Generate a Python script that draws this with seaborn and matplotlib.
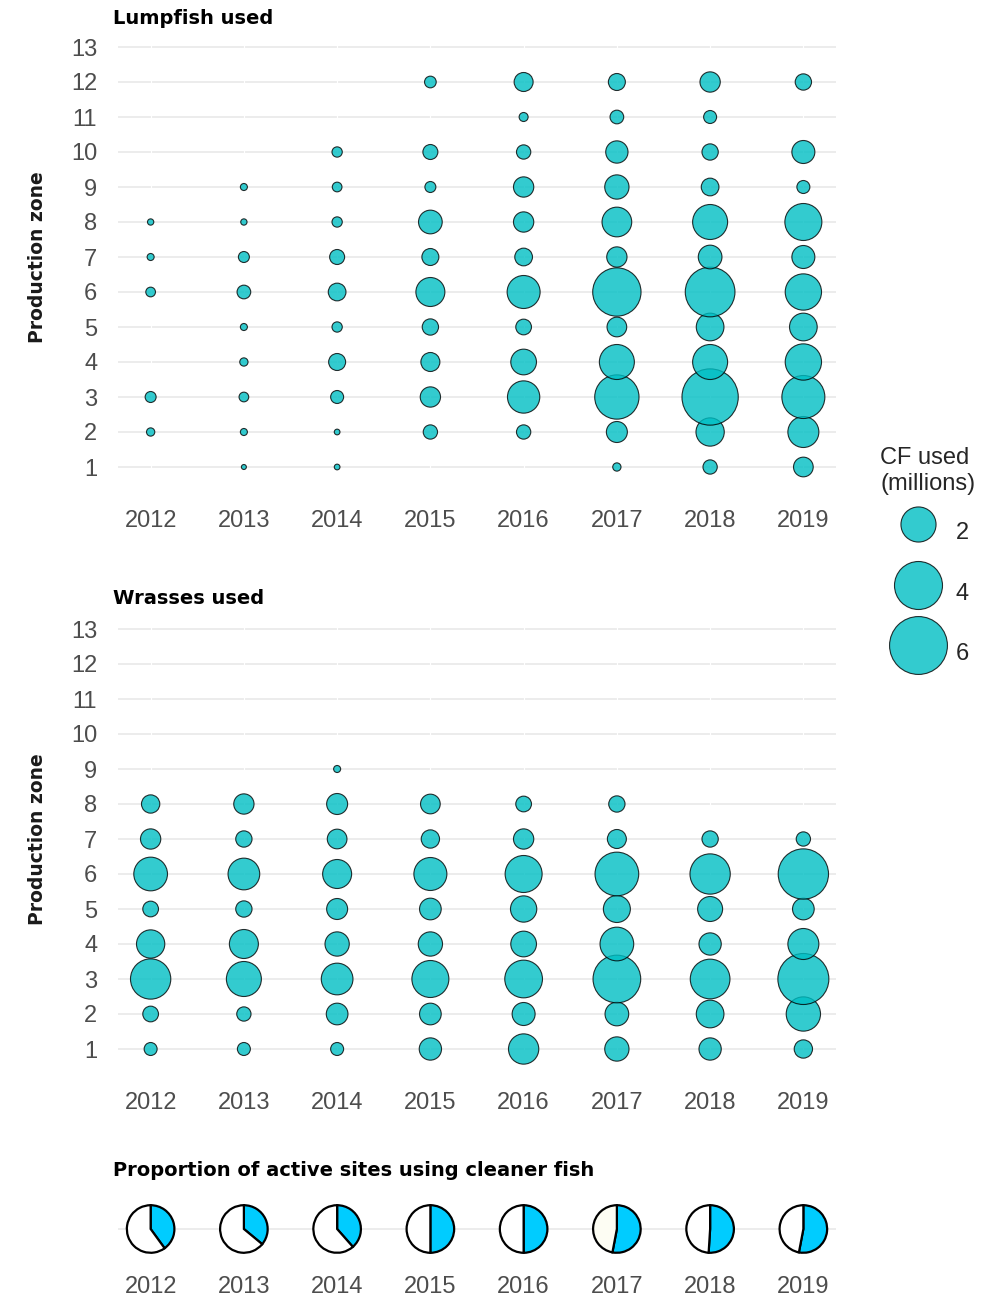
import numpy as np
import pandas as pd
import matplotlib
matplotlib.use("Agg")
import matplotlib.pyplot as plt
import seaborn as sns
from matplotlib.lines import Line2D

# ---------------- data ----------------
YEARS = [2012, 2013, 2014, 2015, 2016, 2017, 2018, 2019]
ZONES = list(range(1, 14))

# Cleaner fish used (millions) per production zone 1..13 (None = not used)
LUMP_2012 = [None, 0.038, 0.101, None, None, 0.067, 0.019, 0.011, None, None, None, None, None]
LUMP_2013 = [0.002, 0.019, 0.067, 0.038, 0.019, 0.194, 0.101, 0.011, 0.019, None, None, None, None]
LUMP_2014 = [0.006, 0.006, 0.167, 0.349, 0.082, 0.388, 0.250, 0.082, 0.067, 0.082, None, None, None]
LUMP_2015 = [None, 0.219, 0.549, 0.465, 0.313, 1.291, 0.349, 0.802, 0.101, 0.250, None, 0.122, None]
LUMP_2016 = [None, 0.219, 1.655, 0.973, 0.283, 1.738, 0.388, 0.549, 0.549, 0.219, 0.052, 0.465, None]
LUMP_2017 = [0.038, 0.597, 3.355, 1.985, 0.509, 4.060, 0.549, 1.365, 0.851, 0.692, 0.194, 0.349, None]
LUMP_2018 = [0.219, 1.220, 5.650, 1.985, 1.160, 4.315, 0.802, 1.985, 0.388, 0.313, 0.167, 0.549, None]
LUMP_2019 = [0.509, 1.506, 3.142, 2.156, 1.160, 2.156, 0.746, 2.250, 0.167, 0.746, None, 0.313, None]

WRASSE_2012 = [0.167, 0.283, 2.722, 1.220, 0.283, 1.822, 0.549, 0.423, None, None, None, None, None]
WRASSE_2013 = [0.167, 0.219, 1.985, 1.291, 0.313, 1.585, 0.313, 0.549, None, None, None, None, None]
WRASSE_2014 = [0.167, 0.647, 1.585, 0.851, 0.597, 1.291, 0.509, 0.597, 0.019, None, None, None, None]
WRASSE_2015 = [0.692, 0.647, 2.250, 0.851, 0.647, 1.738, 0.423, 0.509, None, None, None, None, None]
WRASSE_2016 = [1.429, 0.746, 2.347, 0.973, 1.027, 2.250, 0.549, 0.283, None, None, None, None, None]
WRASSE_2017 = [0.851, 0.802, 3.943, 1.822, 1.093, 3.256, 0.465, 0.313, None, None, None, None, None]
WRASSE_2018 = [0.692, 1.160, 2.633, 0.692, 0.911, 2.722, 0.313, None, None, None, None, None, None]
WRASSE_2019 = [0.423, 1.897, 4.564, 1.506, 0.647, 4.429, 0.219, None, None, None, None, None, None]

# Proportion of active sites using cleaner fish
SITE_SHARE = [0.40, 0.36, 0.385, 0.50, 0.50, 0.53, 0.51, 0.53]

LEGEND_VALUES = [2, 4, 6]

LUMP = [LUMP_2012, LUMP_2013, LUMP_2014, LUMP_2015, LUMP_2016, LUMP_2017, LUMP_2018, LUMP_2019]
WRASSE = [WRASSE_2012, WRASSE_2013, WRASSE_2014, WRASSE_2015, WRASSE_2016, WRASSE_2017,
          WRASSE_2018, WRASSE_2019]


def long_frame(table):
    rows = []
    for yr, vals in zip(YEARS, table):
        for z, v in zip(ZONES, vals):
            if v is not None:
                rows.append({"year": yr, "zone": z, "value": v})
    return pd.DataFrame(rows)


# ---------------- style ----------------
W, H, DPI = 986, 1297, 100
PX = 72.0 / DPI  # points per pixel
CYAN = "#00BFC4"
PIE_BLUE = "#00CCFF"
GRID = "#EBEBEB"
TXT = "#4D4D4D"
TICKC = "#333333"


def size_scale(v):
    """area scale: diameter grows with sqrt(value) (ggplot-like), returns marker area in pt^2"""
    d_px = 4.0 + 22.0 * np.sqrt(np.asarray(v, dtype=float))
    return (d_px * PX) ** 2


sns.set_style("white")
plt.rcParams["font.family"] = ["Liberation Sans", "DejaVu Sans"]

fig = plt.figure(figsize=(W / DPI, H / DPI), dpi=DPI)

AX_L, AX_W = 118 / W, 718 / W
XLIM = (2011.65, 2019.35)


def bubble_panel(top_px, bottom_px, table, title, title_y):
    ax = fig.add_axes([AX_L, 1 - bottom_px / H, AX_W, (bottom_px - top_px) / H])
    df = long_frame(table)
    ax.set_axisbelow(True)
    ax.yaxis.grid(True, color=GRID, linewidth=1.3)
    ax.xaxis.grid(False)
    ax.vlines(YEARS, 0.4, 13.6, colors="white", linewidth=0.8, zorder=1)
    sns.scatterplot(data=df, x="year", y="zone", s=size_scale(df["value"]).tolist(),
                    color=CYAN, alpha=0.8, edgecolor="black", linewidth=0.8,
                    legend=False, ax=ax, zorder=3)
    ax.set_xlim(*XLIM)
    ax.set_ylim(0.4, 13.6)
    ax.set_xticks(YEARS)
    ax.set_xticklabels([str(y) for y in YEARS])
    ax.set_yticks(ZONES)
    ax.set_yticklabels([str(z) for z in ZONES])
    ax.set_xlabel("")
    ax.set_ylabel("")
    for s in ax.spines.values():
        s.set_visible(False)
    ax.tick_params(axis="both", direction="out", length=3, width=0.8, color=TICKC,
                   labelcolor=TXT, labelsize=17)
    ax.tick_params(axis="y", pad=12)
    ax.tick_params(axis="x", pad=13)
    fig.text(113 / W, 1 - title_y / H, title, fontsize=14, fontweight="bold",
             family="DejaVu Sans", color="black", ha="left", va="center")
    fig.text(38 / W, 1 - (top_px + bottom_px) / 2 / H, "Production zone", rotation=90,
             fontsize=13.5, fontweight="bold", family="DejaVu Sans", color="#1A1A1A",
             ha="center", va="center")
    return ax


ax1 = bubble_panel(26, 488, LUMP, "Lumpfish used", 18)
ax2 = bubble_panel(608, 1070, WRASSE, "Wrasses used", 599)

# ---------------- pies ----------------
pie_top, pie_bot = 1203, 1255
pax = fig.add_axes([AX_L, 1 - pie_bot / H, AX_W, (pie_bot - pie_top) / H])
yr_half = (pie_bot - pie_top) / 2 / (718 / (XLIM[1] - XLIM[0]))
pax.axhline(1, color=GRID, linewidth=1.3, zorder=0)
for yr, share in zip(YEARS, SITE_SHARE):
    rest = "#FDFDF3" if yr == 2017 else "white"
    pax.pie([share, 1 - share], colors=[PIE_BLUE, rest], startangle=90, counterclock=False,
            center=(yr, 1), radius=0.255, frame=True,
            wedgeprops=dict(edgecolor="black", linewidth=1.6))
pax.set_aspect("auto")
pax.set_xlim(*XLIM)
pax.set_ylim(1 - yr_half, 1 + yr_half)
pax.set_xticks(YEARS)
pax.set_xticklabels([str(y) for y in YEARS])
pax.set_yticks([1])
pax.set_yticklabels([""])
for s in pax.spines.values():
    s.set_visible(False)
pax.tick_params(axis="both", direction="out", length=3, width=0.8, color=TICKC,
                labelcolor=TXT, labelsize=17)
pax.tick_params(axis="x", pad=12)
fig.text(113 / W, 1 - 1170 / H, "Proportion of active sites using cleaner fish", fontsize=14,
         fontweight="bold", family="DejaVu Sans", color="black", ha="left", va="center")

# ---------------- legend ----------------
handles = [Line2D([], [], marker="o", linestyle="", markersize=float(np.sqrt(size_scale(v))),
                  markerfacecolor=CYAN, markeredgecolor="black", markeredgewidth=0.8, alpha=0.8)
           for v in LEGEND_VALUES]
leg = fig.legend(handles, [str(v) for v in LEGEND_VALUES], title="CF used\n(millions)",
                 loc="upper left", bbox_to_anchor=(859 / W, 1 - 426 / H), frameon=False,
                 fontsize=17, title_fontsize=17, handlelength=3.2, handleheight=2.6,
                 handletextpad=0.0, labelspacing=0.62, alignment="left", borderpad=0.4)

fig.savefig("out.png", dpi=DPI)
